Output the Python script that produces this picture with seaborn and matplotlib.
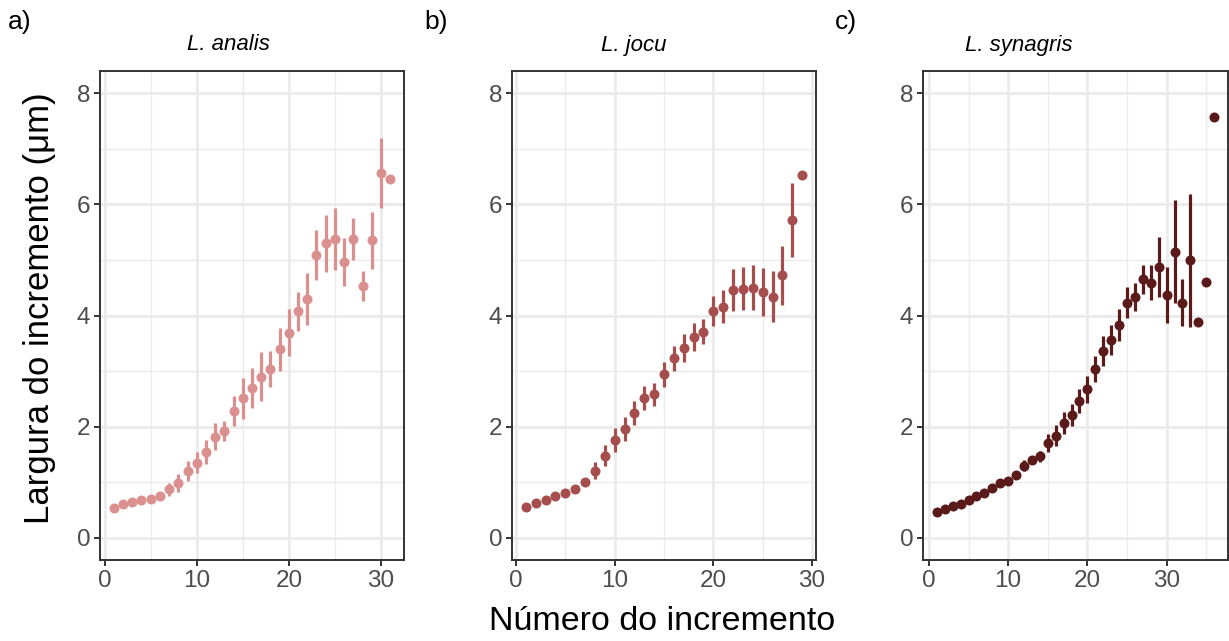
import numpy as np
import pandas as pd
import seaborn as sns
import matplotlib
matplotlib.use("Agg")
import matplotlib.pyplot as plt
from matplotlib.ticker import MultipleLocator

# ---- data ----
species = ["L. analis", "L. jocu", "L. synagris"]
panel_tags = ["a)", "b)", "c)"]
colors = ["#DB9090", "#A64E4E", "#5A1A1A"]

analis_mean = [0.54, 0.60, 0.65, 0.68, 0.70, 0.75, 0.87, 0.99, 1.20, 1.35,
               1.54, 1.82, 1.92, 2.28, 2.51, 2.69, 2.90, 3.04, 3.39, 3.69,
               4.08, 4.30, 5.09, 5.30, 5.37, 4.96, 5.38, 4.53, 5.35, 6.56, 6.46]
analis_err = [0.04, 0.05, 0.05, 0.05, 0.05, 0.07, 0.11, 0.16, 0.18, 0.19,
              0.22, 0.24, 0.18, 0.27, 0.37, 0.36, 0.44, 0.33, 0.38, 0.42,
              0.35, 0.47, 0.45, 0.51, 0.56, 0.43, 0.38, 0.27, 0.52, 0.63, np.nan]

jocu_mean = [0.56, 0.63, 0.68, 0.76, 0.80, 0.88, 1.00, 1.21, 1.48, 1.76,
             1.96, 2.25, 2.52, 2.58, 2.94, 3.23, 3.42, 3.61, 3.71, 4.08,
             4.16, 4.46, 4.48, 4.50, 4.43, 4.34, 4.72, 5.72, 6.52]
jocu_err = [0.03, 0.03, 0.03, 0.03, 0.04, 0.05, 0.06, 0.16, 0.19, 0.22,
            0.22, 0.22, 0.22, 0.21, 0.22, 0.23, 0.25, 0.25, 0.23, 0.27,
            0.29, 0.38, 0.39, 0.41, 0.43, 0.46, 0.53, 0.67, np.nan]

synagris_mean = [0.47, 0.52, 0.57, 0.61, 0.68, 0.75, 0.80, 0.90, 0.99, 1.03,
                 1.13, 1.30, 1.40, 1.47, 1.70, 1.84, 2.07, 2.21, 2.46, 2.67,
                 3.04, 3.37, 3.56, 3.83, 4.23, 4.33, 4.65, 4.59, 4.87, 4.37,
                 5.15, 4.23, 4.99, 3.88, 4.60, 7.58]
synagris_err = [0.02, 0.02, 0.02, 0.02, 0.03, 0.03, 0.03, 0.03, 0.04, 0.04,
                0.05, 0.10, 0.08, 0.10, 0.16, 0.19, 0.20, 0.19, 0.22, 0.24,
                0.24, 0.27, 0.27, 0.29, 0.28, 0.25, 0.26, 0.31, 0.54, 0.50,
                0.93, 0.42, 1.19, np.nan, np.nan, np.nan]

means = [analis_mean, jocu_mean, synagris_mean]
errs = [analis_err, jocu_err, synagris_err]

xlabel = "Número do incremento"
ylabel = "Largura do incremento (μm)"

# ---- style ----
sns.set_theme(style="white")
plt.rcParams["font.family"] = ["Liberation Sans", "DejaVu Sans"]

fig = plt.figure(figsize=(12.29, 6.41), dpi=100)
W, H = 1229, 641
boxes = [(100, 404), (512, 816), (923, 1228)]
top_px, bot_px = 71, 560
title_x = [228, 634, 1019]
tag_x = [20, 436, 846]

for i in range(3):
    l, r = boxes[i]
    ax = fig.add_axes([l / W, 1 - bot_px / H, (r - l) / W, (bot_px - top_px) / H])
    df = pd.DataFrame({"x": np.arange(1, len(means[i]) + 1),
                       "y": means[i], "e": errs[i]})
    ax.errorbar(df["x"], df["y"], yerr=df["e"], fmt="none",
                ecolor=colors[i], elinewidth=2.3, capsize=0, zorder=3)
    sns.scatterplot(data=df, x="x", y="y", ax=ax, color=colors[i],
                    s=52, linewidth=0, zorder=4, legend=False)
    n = len(means[i])
    pad = (n - 1) * 0.05
    ax.set_xlim(1 - pad, n + pad)
    ax.set_ylim(-0.4, 8.4)
    ax.xaxis.set_major_locator(MultipleLocator(10))
    ax.xaxis.set_minor_locator(MultipleLocator(5))
    ax.yaxis.set_major_locator(MultipleLocator(2))
    ax.yaxis.set_minor_locator(MultipleLocator(1))
    ax.grid(which="major", color="#EBEBEB", linewidth=2.0, zorder=0)
    ax.grid(which="minor", color="#EBEBEB", linewidth=1.0, zorder=0)
    ax.set_axisbelow(True)
    for s in ax.spines.values():
        s.set_color("#333333")
        s.set_linewidth(1.4)
    ax.tick_params(which="major", length=4, width=1.4, color="#333333",
                   labelsize=17.5, labelcolor="#4D4D4D", bottom=True, left=True, pad=3)
    ax.tick_params(which="minor", length=0)
    ax.set_xlabel("")
    ax.set_ylabel("")
    fig.text(title_x[i] / W, 1 - 45 / H, species[i], ha="center", va="center",
             fontsize=16, style="italic", color="black")
    fig.text(tag_x[i] / W, 1 - 22 / H, panel_tags[i], ha="center", va="center",
             fontsize=19, color="black")

fig.text(662 / W, 1 - 622 / H, xlabel, ha="center", va="center", fontsize=24.5,
         color="black")
fig.text(40 / W, 1 - 308 / H, ylabel, ha="center", va="center", fontsize=25,
         rotation=90, color="black")

fig.savefig("out.png", dpi=100, facecolor="white")
